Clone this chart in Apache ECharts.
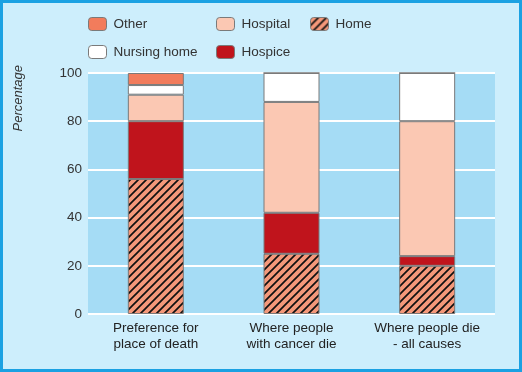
<!DOCTYPE html>
<html><head><meta charset="utf-8">
<script src="https://cdn.jsdelivr.net/npm/echarts@6/dist/echarts.min.js"></script>
<style>html,body{margin:0;padding:0;}#c{width:522px;height:372px;box-sizing:border-box;border:3px solid #1ba1e2;background:#cdeefc;}</style>
</head><body><div id="c"></div>
<script>
const categories = ['Preference for\nplace of death', 'Where people\nwith cancer die', 'Where people die\n- all causes'];
const home = [56, 25, 20];
const hospice = [24, 17, 4];
const hospital = [11, 46, 56];
const nursingHome = [4, 12, 20];
const other = [5, 0, 0];
const yTicks = [0, 20, 40, 60, 80, 100];

const cv = document.createElement('canvas');
cv.width = 8; cv.height = 8;
const g = cv.getContext('2d');
g.fillStyle = '#f4987a'; g.fillRect(0,0,8,8);
g.strokeStyle = '#111'; g.lineWidth = 1.7;
g.beginPath();
g.moveTo(-1,9); g.lineTo(9,-1);
g.moveTo(-2,2); g.lineTo(2,-2);
g.moveTo(6,10); g.lineTo(10,6);
g.stroke();
const hatch = {image: cv, repeat: 'repeat'};

const font = '"Liberation Sans Narrow", "Liberation Sans", Arial, sans-serif';
const fs = 13.5;
const border = {borderColor: '#7a7a7a', borderWidth: 1};
function ser(name, data, color) {
  return {name, type: 'bar', stack: 's', data, barWidth: 56,
    itemStyle: Object.assign({color}, border)};
}
const series = [
  ser('Home', home, hatch),
  ser('Hospice', hospice, '#c0141c'),
  ser('Hospital', hospital, '#fbc8b3'),
  ser('Nursing home', nursingHome, '#ffffff'),
  ser('Other', other, '#f27c5c')
];
function leg(name, left, top) {
  return {data: [name], left, top, itemWidth: 18, itemHeight: 13, itemGap: 0,
    textStyle: {fontFamily: font, fontSize: fs, color: '#333', padding: [0,0,0,2]},
    padding: 0, selectedMode: false,
    itemStyle: {borderColor: '#7a7a7a', borderWidth: 1}};
}
const chart = echarts.init(document.getElementById('c'), null, {renderer: 'canvas'});
chart.setOption({
  animation: false,
  grid: {left: 85, right: 24, top: 70, bottom: 55, show: true, backgroundColor: '#a5dcf5', borderWidth: 0},
  legend: [
    leg('Other', 85, 14), leg('Hospital', 213, 14), leg('Home', 307, 14),
    leg('Nursing home', 85, 42), leg('Hospice', 213, 42)
  ],
  xAxis: {type: 'category', data: categories,
    axisLine: {show: false}, axisTick: {show: false},
    axisLabel: {interval: 0, fontFamily: font, fontSize: fs, color: '#222', lineHeight: 16, margin: 6}},
  yAxis: {type: 'value', min: 0, max: 100, interval: 20,
    axisLine: {show: false}, axisTick: {show: false},
    splitLine: {lineStyle: {color: '#ffffff', width: 2}},
    axisLabel: {fontFamily: font, fontSize: fs, color: '#333', margin: 6,
      formatter: v => yTicks.includes(v) ? String(v) : ''}},
  graphic: [{type: 'text', left: 9, top: 62, rotation: Math.PI/2,
    style: {text: 'Percentage', font: 'italic 13px ' + font, fill: '#333'}}],
  series
});
</script></body></html>
